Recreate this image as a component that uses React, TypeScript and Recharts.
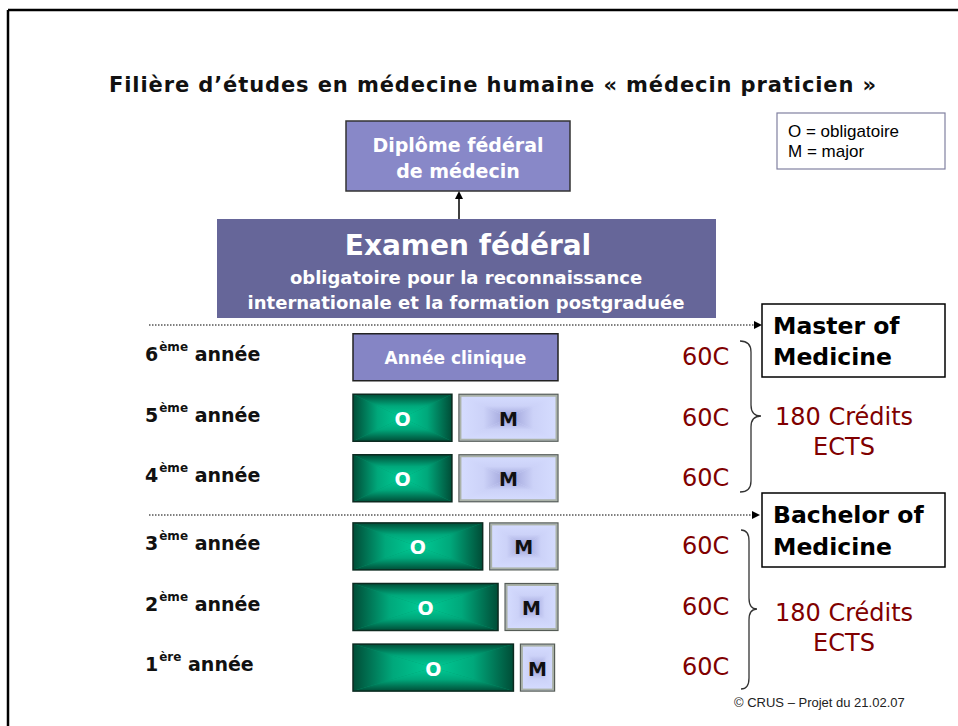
import React from 'react';
import { BarChart, Bar, XAxis, YAxis } from 'recharts';

// year rows, top (6th) to bottom (1st)
const yearNums = ['6', '5', '4', '3', '2', '1'];
const yearSuffix = ['ème', 'ème', 'ème', 'ème', 'ème', 'ère'];
// share of each year (in ECTS-like units, 60 per year)
const clinique = [60, 0, 0, 0, 0, 0];
const obligatoire = [0, 31, 31, 40, 44.5, 49];
const major = [0, 29, 29, 20, 15.5, 10];
const credits = [60, 60, 60, 60, 60, 60];

const rows = yearNums.map((n, i) => ({
  year: n,
  suffix: yearSuffix[i],
  clinique: clinique[i],
  o: obligatoire[i],
  m: major[i],
  credits: credits[i],
}));
const masterRows = rows.slice(0, 3);
const bachelorRows = rows.slice(3);

const W = 958;
const H = 726;
const GAP = 7;
const SANS = 'DejaVu Sans, Verdana, sans-serif';
const ARIAL = 'Liberation Sans, Arial, sans-serif';
const RED = '#800000';

const tri = (x: number, y: number, w: number, h: number, id: string) => {
  const cx = x + w / 2;
  const cy = y + h / 2;
  return (
    <>
      <polygon points={`${x},${y} ${x + w},${y} ${cx},${cy}`} fill={`url(#${id}T)`} />
      <polygon points={`${x},${y + h} ${x + w},${y + h} ${cx},${cy}`} fill={`url(#${id}B)`} />
      <polygon points={`${x},${y} ${x},${y + h} ${cx},${cy}`} fill={`url(#${id}L)`} />
      <polygon points={`${x + w},${y} ${x + w},${y + h} ${cx},${cy}`} fill={`url(#${id}R)`} />
    </>
  );
};

const OShape = (p: any) => {
  const { x, y, width, height } = p;
  if (!width || width <= 1) return null;
  const w = width - GAP;
  return (
    <g>
      <rect x={x} y={y} width={w} height={height} fill="#00946a" />
      {tri(x, y, w, height, 'og')}
      <rect x={x} y={y} width={w} height={height} fill="none" stroke="#0c2a20" strokeWidth={1.5} />
      <text x={x + w / 2} y={y + height / 2 + 1} textAnchor="middle" dominantBaseline="central"
        fill="#fff" fontFamily={SANS} fontWeight="bold" fontSize={19}>O</text>
    </g>
  );
};

const MShape = (p: any) => {
  const { x, y, width, height } = p;
  if (!width || width <= 1) return null;
  return (
    <g>
      <rect x={x} y={y} width={width} height={height} fill="#d2d9fc" />
      {tri(x, y, width, height, 'mg')}
      <rect x={x + 1.5} y={y + 1.5} width={width - 3} height={height - 3} fill="none" stroke="#aab2a8" strokeWidth={2} />
      <rect x={x} y={y} width={width} height={height} fill="none" stroke="#555c56" strokeWidth={1.2} />
      <text x={x + width / 2} y={y + height / 2 + 1} textAnchor="middle" dominantBaseline="central"
        fill="#111" fontFamily={SANS} fontWeight="bold" fontSize={19}>M</text>
    </g>
  );
};

const ClinicShape = (p: any) => {
  const { x, y, width, height } = p;
  if (!width || width <= 1) return null;
  return (
    <g>
      <rect x={x} y={y} width={width} height={height} fill="#8585c5" stroke="#222" strokeWidth={1.5} />
      <text x={x + width / 2} y={y + height / 2 + 1} textAnchor="middle" dominantBaseline="central"
        fill="#fff" fontFamily={SANS} fontWeight="bold" fontSize={17}>Année clinique</text>
    </g>
  );
};

const YearTick = (p: any) => {
  const { y, payload } = p;
  const row = rows.find((r) => r.year === payload.value);
  return (
    <text x={145} y={y + 4} fill="#111" fontFamily={SANS} fontWeight="bold" fontSize={19} style={{ whiteSpace: 'pre' }}>
      <tspan>{payload.value}</tspan>
      <tspan dx={1} dy={-10} fontSize={12}>{row ? row.suffix : ''}</tspan>
      <tspan dy={10} fontSize={19}>{' année'}</tspan>
    </text>
  );
};

const CreditTick = (p: any) => {
  const { y, payload } = p;
  const row = rows.find((r) => r.year === payload.value);
  return (
    <text x={682} y={y} dominantBaseline="central" fill={RED} fontFamily={SANS} fontSize={24}>
      {row ? `${row.credits}C` : ''}
    </text>
  );
};

const Section = ({ data, top, bottom }: { data: typeof rows; top: number; bottom: number }) => (
  <div style={{ position: 'absolute', left: 0, top: 0 }}>
    <BarChart
      width={W}
      height={H}
      data={data}
      layout="vertical"
      margin={{ top, bottom: H - bottom, left: 145, right: W - 727 }}
      barSize={47}
    >
      <XAxis type="number" domain={[0, 60]} hide />
      <YAxis yAxisId="l" type="category" dataKey="year" width={208} axisLine={false} tickLine={false} tick={<YearTick />} />
      <YAxis yAxisId="r" orientation="right" type="category" dataKey="year" width={169} axisLine={false} tickLine={false} tick={<CreditTick />} />
      <Bar yAxisId="l" dataKey="clinique" stackId="s" shape={ClinicShape} isAnimationActive={false} />
      <Bar yAxisId="l" dataKey="o" stackId="s" shape={OShape} isAnimationActive={false} />
      <Bar yAxisId="l" dataKey="m" stackId="s" shape={MShape} isAnimationActive={false} />
    </BarChart>
  </div>
);

const grad = (id: string, edge: string, mid: string, center: string) => (
  <>
    {[
      ['T', 0, 0, 0, 1],
      ['B', 0, 1, 0, 0],
      ['L', 0, 0, 1, 0],
      ['R', 1, 0, 0, 0],
    ].map(([k, x1, y1, x2, y2]) => (
      <linearGradient key={`${id}${k}`} id={`${id}${k}`} x1={x1 as number} y1={y1 as number} x2={x2 as number} y2={y2 as number}>
        <stop offset="0%" stopColor={edge} />
        <stop offset="50%" stopColor={mid} />
        <stop offset="100%" stopColor={center} />
      </linearGradient>
    ))}
  </>
);

const Brace = ({ x0, xs, xt, y0, ym, y1 }: { x0: number; xs: number; xt: number; y0: number; ym: number; y1: number }) => (
  <path
    d={`M ${x0} ${y0} Q ${xs} ${y0} ${xs} ${y0 + 11} L ${xs} ${ym - 11} Q ${xs} ${ym} ${xt} ${ym} Q ${xs} ${ym} ${xs} ${ym + 11} L ${xs} ${y1 - 11} Q ${xs} ${y1} ${x0} ${y1}`}
    fill="none"
    stroke="#333"
    strokeWidth={1.3}
  />
);

const Overlay = () => (
  <svg width={W} height={H} style={{ position: 'absolute', left: 0, top: 0 }}>
    <defs>
      {grad('og', '#004d37', '#00a87b', '#00cc96')}
      {grad('mg', '#d6ddff', '#ccd2f8', '#9a9ed6')}
    </defs>
    {/* frame */}
    <line x1={8} y1={10} x2={W} y2={10} stroke="#000" strokeWidth={2.5} />
    <line x1={8} y1={10} x2={8} y2={H} stroke="#000" strokeWidth={2.5} />

    <text x={493} y={85} textAnchor="middle" dominantBaseline="central" fill="#111" fontFamily={SANS}
      fontWeight="bold" fontSize={21} letterSpacing={0.9}>
      Filière d’études en médecine humaine « médecin praticien »
    </text>

    {/* legend */}
    <rect x={777} y={113} width={168} height={56} fill="#fff" stroke="#8080a0" strokeWidth={1.2} />
    <text x={788} y={131} dominantBaseline="central" fill="#000" fontFamily={ARIAL} fontSize={17}>O = obligatoire</text>
    <text x={788} y={151} dominantBaseline="central" fill="#000" fontFamily={ARIAL} fontSize={17}>M = major</text>

    {/* diplome */}
    <rect x={346} y={121} width={224} height={70} fill="#8888c8" stroke="#333" strokeWidth={1.5} />
    <text x={458} y={145} textAnchor="middle" dominantBaseline="central" fill="#fff" fontFamily={SANS} fontWeight="bold" fontSize={19}>Diplôme fédéral</text>
    <text x={458} y={171} textAnchor="middle" dominantBaseline="central" fill="#fff" fontFamily={SANS} fontWeight="bold" fontSize={19}>de médecin</text>
    <line x1={459} y1={219} x2={459} y2={198} stroke="#000" strokeWidth={1.5} />
    <polygon points="455,199 459,191 463,199" fill="#000" />

    {/* examen */}
    <rect x={217} y={219} width={499} height={99} fill="#666699" />
    <text x={468} y={245} textAnchor="middle" dominantBaseline="central" fill="#fff" fontFamily={SANS} fontWeight="bold" fontSize={28}>Examen fédéral</text>
    <text x={466} y={277} textAnchor="middle" dominantBaseline="central" fill="#fff" fontFamily={SANS} fontWeight="bold" fontSize={18}>obligatoire pour la reconnaissance</text>
    <text x={466} y={302} textAnchor="middle" dominantBaseline="central" fill="#fff" fontFamily={SANS} fontWeight="bold" fontSize={18}>internationale et la formation postgraduée</text>

    {/* dotted separators */}
    <line x1={149} y1={325} x2={755} y2={325} stroke="#000" strokeWidth={1} strokeDasharray="1.5 1.5" />
    <polygon points="754,321 762,325 754,329" fill="#000" />
    <line x1={149} y1={515} x2={753} y2={515} stroke="#000" strokeWidth={1} strokeDasharray="1.5 1.5" />
    <polygon points="752,511 760,515 752,519" fill="#000" />

    {/* degree boxes */}
    <rect x={762} y={304} width={183} height={73} fill="#fff" stroke="#000" strokeWidth={1.5} />
    <text x={773} y={326} dominantBaseline="central" fill="#000" fontFamily={SANS} fontWeight="bold" fontSize={23.5}>Master of</text>
    <text x={773} y={357} dominantBaseline="central" fill="#000" fontFamily={SANS} fontWeight="bold" fontSize={23.5}>Medicine</text>
    <rect x={762} y={493} width={183} height={74} fill="#fff" stroke="#000" strokeWidth={1.5} />
    <text x={773} y={515} dominantBaseline="central" fill="#000" fontFamily={SANS} fontWeight="bold" fontSize={23.5}>Bachelor of</text>
    <text x={773} y={547} dominantBaseline="central" fill="#000" fontFamily={SANS} fontWeight="bold" fontSize={23.5}>Medicine</text>

    {/* braces and credit totals */}
    <Brace x0={740} xs={751} xt={761} y0={341} ym={416} y1={492} />
    <Brace x0={741} xs={749} xt={757} y0={530} ym={609} y1={689} />
    <text x={844} y={417} textAnchor="middle" dominantBaseline="central" fill={RED} fontFamily={SANS} fontSize={24}>180 Crédits</text>
    <text x={844} y={447} textAnchor="middle" dominantBaseline="central" fill={RED} fontFamily={SANS} fontSize={24}>ECTS</text>
    <text x={844} y={613} textAnchor="middle" dominantBaseline="central" fill={RED} fontFamily={SANS} fontSize={24}>180 Crédits</text>
    <text x={844} y={643} textAnchor="middle" dominantBaseline="central" fill={RED} fontFamily={SANS} fontSize={24}>ECTS</text>

    <text x={734} y={702} dominantBaseline="central" fill="#222" fontFamily={ARIAL} fontSize={13}>© CRUS – Projet du 21.02.07</text>
  </svg>
);

export default function App() {
  return (
    <div style={{ position: 'absolute', left: 0, top: 0, width: W, height: H, background: '#fff', overflow: 'hidden' }}>
      <Overlay />
      <Section data={masterRows} top={326.75} bottom={508.25} />
      <Section data={bachelorRows} top={515.9} bottom={697.7} />
    </div>
  );
}
